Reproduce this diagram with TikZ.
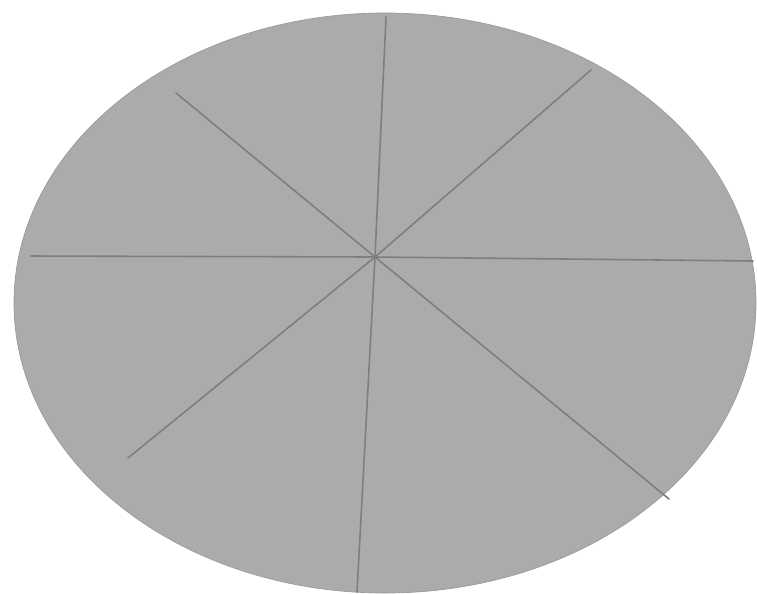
\documentclass[tikz,border=0pt]{standalone}
\usepackage{xcolor}
\usepackage{tikz}
\definecolor{disc}{HTML}{ABABAB}
\definecolor{spoke}{HTML}{7E7E7E}
\tikzset{
  discfill/.style={fill=disc, draw=disc!90!black, thin},
  spokeline/.style={draw=spoke, line width=0.9pt, line cap=round},
}

\begin{document}
\begin{tikzpicture}[x=0.02cm, y=-0.02cm]
    \useasboundingbox (0,0) rectangle (757,593);
    \fill[discfill] (385,303) ellipse [x radius=371, y radius=290];
    \coordinate (hub) at (375,257);
    \coordinate (top) at (386,17);
    \coordinate (topright) at (591,70);
    \coordinate (right) at (753,261);
    \coordinate (botright) at (669,499);
    \coordinate (bot) at (357,592);
    \coordinate (botleft) at (128,458);
    \coordinate (left) at (31,256);
    \coordinate (topleft) at (176,93);
    \foreach \e in {top,topright,right,botright,bot,botleft,left,topleft}
      \draw[spokeline] (hub) -- (\e);
\end{tikzpicture}
\end{document}
